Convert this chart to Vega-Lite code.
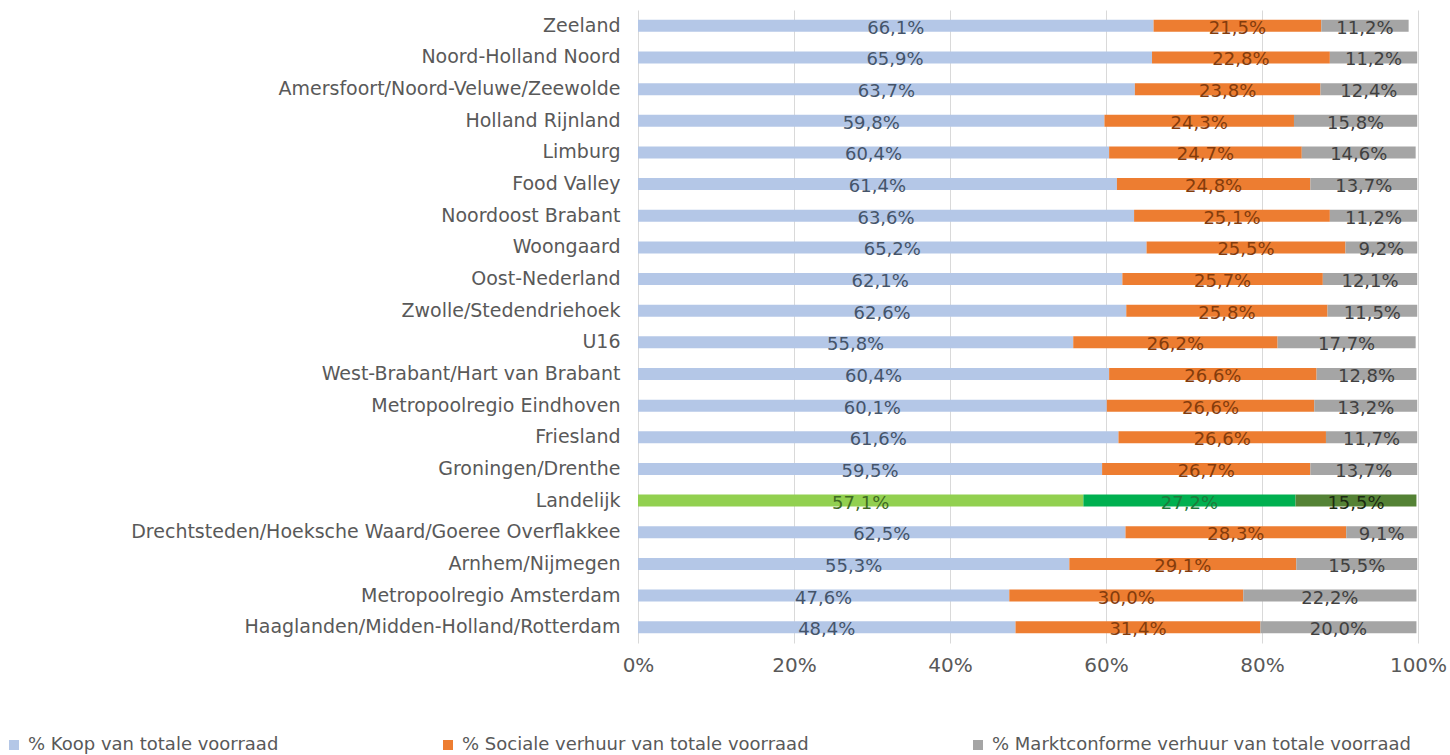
{
  "$schema": "https://vega.github.io/schema/vega-lite/v6.json",
  "width": 780,
  "height": 633,
  "autosize": {"type": "pad"},
  "padding": {"left": 5, "top": 10, "right": 0, "bottom": 0},
  "background": "white",
  "config": {"view": {"stroke": null}, "font": "DejaVu Sans"},
  "data": {
    "values": [
      {"regio": "Zeeland", "koop": 66.1, "sociaal": 21.5, "markt": 11.2},
      {"regio": "Noord-Holland Noord", "koop": 65.9, "sociaal": 22.8, "markt": 11.2},
      {"regio": "Amersfoort/Noord-Veluwe/Zeewolde", "koop": 63.7, "sociaal": 23.8, "markt": 12.4},
      {"regio": "Holland Rijnland", "koop": 59.8, "sociaal": 24.3, "markt": 15.8},
      {"regio": "Limburg", "koop": 60.4, "sociaal": 24.7, "markt": 14.6},
      {"regio": "Food Valley", "koop": 61.4, "sociaal": 24.8, "markt": 13.7},
      {"regio": "Noordoost Brabant", "koop": 63.6, "sociaal": 25.1, "markt": 11.2},
      {"regio": "Woongaard", "koop": 65.2, "sociaal": 25.5, "markt": 9.2},
      {"regio": "Oost-Nederland", "koop": 62.1, "sociaal": 25.7, "markt": 12.1},
      {"regio": "Zwolle/Stedendriehoek", "koop": 62.6, "sociaal": 25.8, "markt": 11.5},
      {"regio": "U16", "koop": 55.8, "sociaal": 26.2, "markt": 17.7},
      {"regio": "West-Brabant/Hart van Brabant", "koop": 60.4, "sociaal": 26.6, "markt": 12.8},
      {"regio": "Metropoolregio Eindhoven", "koop": 60.1, "sociaal": 26.6, "markt": 13.2},
      {"regio": "Friesland", "koop": 61.6, "sociaal": 26.6, "markt": 11.7},
      {"regio": "Groningen/Drenthe", "koop": 59.5, "sociaal": 26.7, "markt": 13.7},
      {"regio": "Landelijk", "koop": 57.1, "sociaal": 27.2, "markt": 15.5},
      {"regio": "Drechtsteden/Hoeksche Waard/Goeree Overflakkee", "koop": 62.5, "sociaal": 28.3, "markt": 9.1},
      {"regio": "Arnhem/Nijmegen", "koop": 55.3, "sociaal": 29.1, "markt": 15.5},
      {"regio": "Metropoolregio Amsterdam", "koop": 47.6, "sociaal": 30.0, "markt": 22.2},
      {"regio": "Haaglanden/Midden-Holland/Rotterdam", "koop": 48.4, "sociaal": 31.4, "markt": 20.0}
    ]
  },
  "transform": [
    {"fold": ["koop", "sociaal", "markt"], "as": ["serie", "v"]},
    {"calculate": "indexof(['koop','sociaal','markt'], datum.serie)", "as": "nr"},
    {"stack": "v", "groupby": ["regio"], "sort": [{"field": "nr", "order": "ascending"}], "as": ["x0", "x1"]},
    {"calculate": "(datum.x0 + datum.x1) / 2", "as": "mid"},
    {"calculate": "replace(format(datum.v, '.1f'), '.', ',') + '%'", "as": "lab"}
  ],
  "encoding": {
    "y": {
      "field": "regio",
      "type": "nominal",
      "sort": null,
      "scale": {"paddingInner": 0, "paddingOuter": 0},
      "axis": {
        "title": null,
        "domain": false,
        "ticks": false,
        "labelFontSize": 19,
        "labelColor": "#595959",
        "labelPadding": 18,
        "labelLimit": 1000
      }
    }
  },
  "layer": [
    {
      "mark": {"type": "bar", "size": 12},
      "encoding": {
        "x": {
          "field": "x0",
          "type": "quantitative",
          "scale": {"domain": [0, 100], "nice": false},
          "axis": {
            "title": null,
            "values": [0, 20, 40, 60, 80, 100],
            "labelExpr": "datum.value + '%'",
            "labelFlush": false,
            "labelOverlap": false,
            "grid": true,
            "gridColor": "#D9D9D9",
            "domain": false,
            "ticks": false,
            "labelFontSize": 20,
            "labelColor": "#595959",
            "labelPadding": 12
          }
        },
        "x2": {"field": "x1"},
        "color": {
          "condition": [
            {"test": "datum.regio === 'Landelijk' && datum.serie === 'koop'", "value": "#92D050"},
            {"test": "datum.regio === 'Landelijk' && datum.serie === 'sociaal'", "value": "#00B050"},
            {"test": "datum.regio === 'Landelijk' && datum.serie === 'markt'", "value": "#548235"}
          ],
          "field": "serie",
          "type": "nominal",
          "scale": {"domain": ["koop", "sociaal", "markt"], "range": ["#B4C7E7", "#ED7D31", "#A5A5A5"]},
          "legend": {
            "orient": "none",
            "legendX": -633,
            "legendY": 726,
            "direction": "horizontal",
            "title": null,
            "labelFontSize": 18,
            "labelColor": "#595959",
            "symbolType": "square",
            "symbolSize": 100,
            "symbolStrokeWidth": 0,
            "labelOffset": 5,
            "columnPadding": 160,
            "labelLimit": 1000,
            "labelExpr": "datum.value === 'koop' ? '% Koop van totale voorraad' : datum.value === 'sociaal' ? '% Sociale verhuur van totale voorraad' : '% Marktconforme verhuur van totale voorraad'"
          }
        }
      }
    },
    {
      "mark": {"type": "text", "fontSize": 18, "align": "center", "baseline": "middle", "dy": 3},
      "encoding": {
        "x": {"field": "mid", "type": "quantitative"},
        "text": {"field": "lab", "type": "nominal"},
        "color": {
          "condition": [
            {"test": "datum.regio === 'Landelijk' && datum.serie === 'koop'", "value": "#3F6B22"},
            {"test": "datum.regio === 'Landelijk' && datum.serie === 'sociaal'", "value": "#1E7A3A"},
            {"test": "datum.regio === 'Landelijk' && datum.serie === 'markt'", "value": "#1C2A12"},
            {"test": "datum.serie === 'koop'", "value": "#44546A"},
            {"test": "datum.serie === 'sociaal'", "value": "#843C0C"}
          ],
          "value": "#404040"
        }
      }
    }
  ]
}
